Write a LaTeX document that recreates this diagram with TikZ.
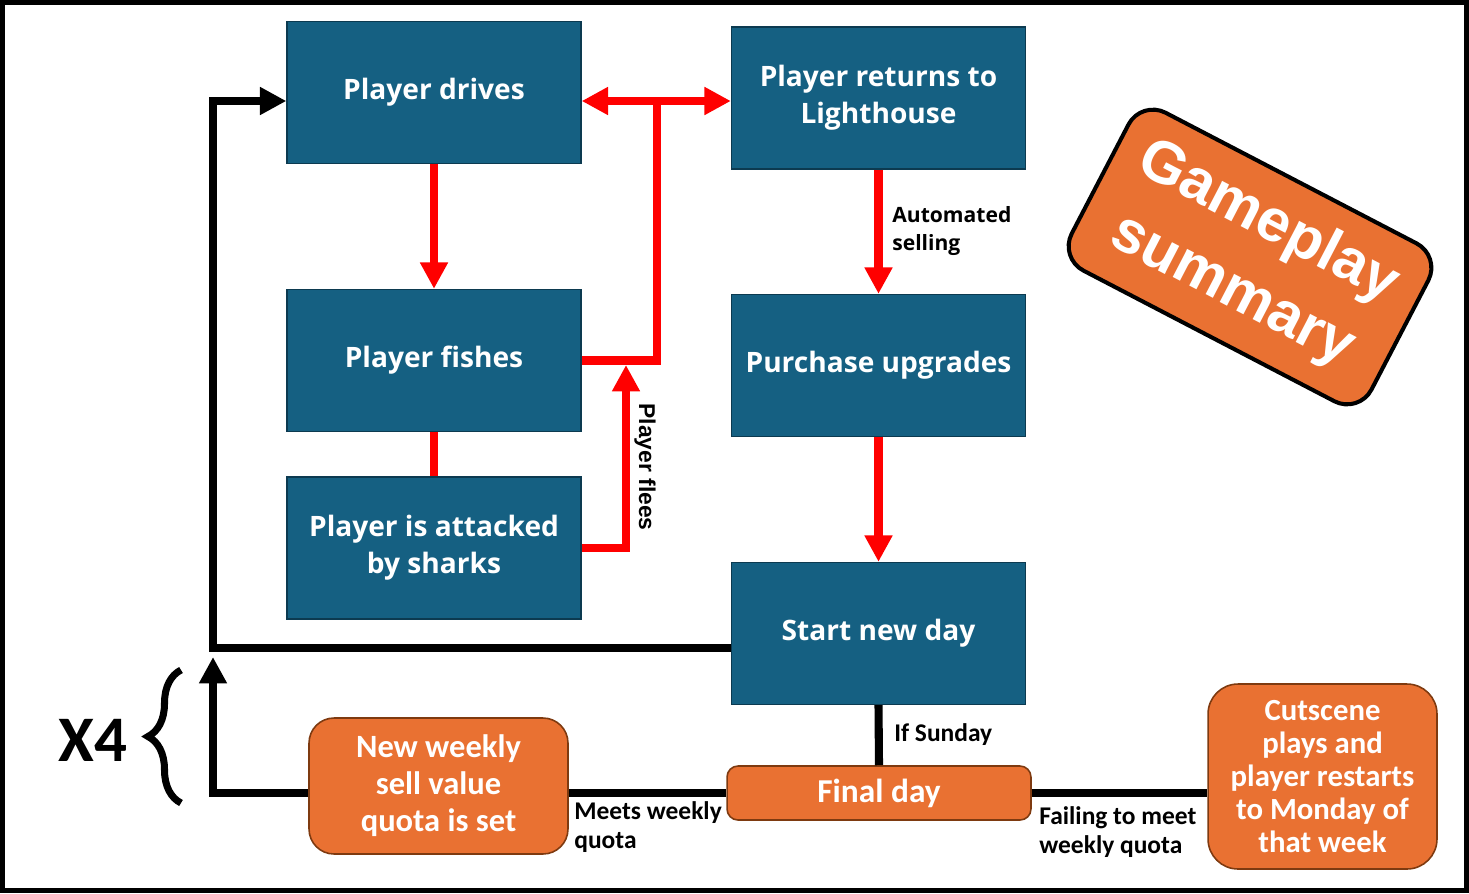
\documentclass[tikz,border=0pt]{standalone}
\usepackage{fontspec}
\setmainfont{Open Sans}
\newfontfamily\calibrifont{Carlito}
\newfontfamily\arialfont{Liberation Sans}
\usepackage{tikz}
\usetikzlibrary{arrows.meta}
\usetikzlibrary{calc}
\usetikzlibrary{decorations.pathreplacing}
\definecolor{boxblue}{HTML}{156082}
\definecolor{bluedark}{HTML}{0C3A50}
\definecolor{boxorange}{HTML}{E97132}
\definecolor{orangedark}{HTML}{7E3A10}

\begin{document}
\begin{tikzpicture}[x=0.02cm,y=-0.02cm,>/.tip={Triangle[width=15pt,length=15pt]},
	blue box/.style={draw=bluedark,line width=0.8pt,fill=boxblue,minimum width=5.88cm,minimum height=2.84cm,text=white,align=center,font=\bfseries\fontsize{16}{21}\selectfont},
	orange box/.style={draw=orangedark,line width=0.9pt,fill=boxorange,text=white,align=center,inner sep=0pt},
	red line/.style={draw=red,line width=4.8pt},
	black line/.style={draw=black,line width=4.6pt},
	small label/.style={align=left,inner sep=0pt,font=\calibrifont\bfseries\fontsize{14.5}{17}\selectfont}]
	\useasboundingbox (0,0) rectangle (1469,893);
	\draw[line width=2.8pt] (2.5,2.5) rectangle (1466.5,890.5);
	\draw (434,92.5) node(drives) [blue box] {Player drives};
	\draw (878.5,98) node(returns) [blue box] {Player returns to\\Lighthouse};
	\draw (434,360.5) node(fishes) [blue box] {Player fishes};
	\draw (434,548) node(sharks) [blue box] {Player is attacked\\by sharks};
	\draw (878.5,365.5) node(upgrades) [blue box] {Purchase upgrades};
	\draw (878.5,633.5) node(newday) [blue box] {Start new day};
	\draw (879,793) node(final) [orange box,rounded corners=0.22cm,minimum width=6.08cm,minimum height=1.08cm,font=\calibrifont\bfseries\fontsize{19}{21}\selectfont] {Final day};
	\draw (438.5,786) node(quota) [orange box,rounded corners=0.5cm,minimum width=5.18cm,minimum height=2.72cm,font=\calibrifont\bfseries\fontsize{18.5}{21}\selectfont] {New weekly\\sell value\\quota is set};
	\draw (1322.5,776.5) node(cutscene) [orange box,rounded corners=0.6cm,minimum width=4.58cm,minimum height=3.7cm,font=\calibrifont\bfseries\fontsize{17.5}{18.7}\selectfont] {Cutscene\\plays and\\player restarts\\to Monday of\\that week};
	\draw (1250,257) node(title) [rotate=-27.5,draw=black,line width=2.3pt,fill=boxorange,rounded corners=0.55cm,minimum width=6.76cm,minimum height=3.56cm,inner sep=0pt,text=white,align=center,font=\arialfont\bfseries\fontsize{34}{44}\selectfont] {Gameplay\\summary};
	\coordinate (rj) at (657,101);
	\coordinate (flee) at (626,365);
	\coordinate (lc) at (213,648);
	\coordinate (loop) at (213,101);
	\coordinate (up) at (213,657);
	\draw[red line,->] (drives) -- (fishes);
	\draw[red line] (fishes.south) -- (sharks.north);
	\draw[red line] (fishes.east) -| (rj);
	\draw[red line,<->] (drives.east |- rj) -- (returns.west |- rj);
	\draw[red line,->] (sharks.east) -- (sharks.east -| flee) -- (flee);
	\draw[red line,->] (returns) -- (upgrades);
	\draw[red line,->] (upgrades) -- (newday);
	\draw[black line,->] (newday.west |- lc) -- (lc) -- (loop) -- (drives.west |- loop);
	\draw[black line] (newday.south) -- (final.north);
	\draw[black line] (final.west) -- (quota.east |- final.west);
	\draw[black line,->] (quota.west |- final.west) -| (up);
	\draw[black line] (final.east) -- (cutscene.west |- final.east);
	\node [anchor=west,align=left,inner sep=0pt,font=\bfseries\fontsize{12}{16.4}\selectfont] (selling) at (892,231) {Automated\\selling};
	\node [anchor=center,rotate=-90,inner sep=0pt,font=\arialfont\bfseries\fontsize{13}{15}\selectfont] (flees) at (645,467) {Player flees};
	\node [small label,anchor=west] (sunday) at (894,735) {If Sunday};
	\node [small label,anchor=west] (meets) at (574,827) {Meets weekly\\quota};
	\node [small label,anchor=west] (failing) at (1039,832) {Failing to meet\\weekly quota};
	\node [inner sep=0pt,font=\calibrifont\bfseries\fontsize{37}{40}\selectfont] (times) at (93,740) {X4};
	\draw[line width=4pt,decorate,decoration={brace,amplitude=0.66cm}] (181,803) -- (181,670);
\end{tikzpicture}
\end{document}
